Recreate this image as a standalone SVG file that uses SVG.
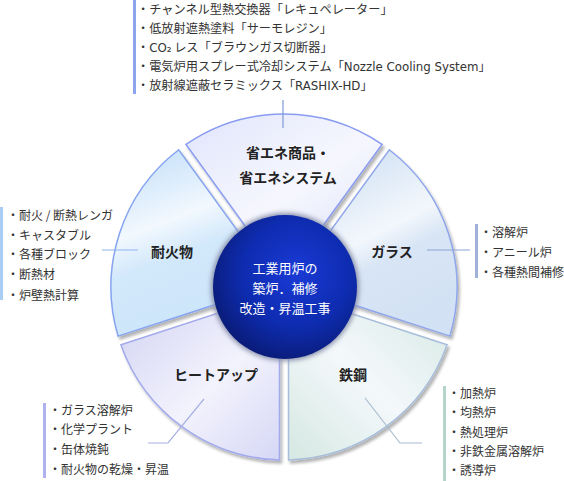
<svg xmlns="http://www.w3.org/2000/svg" width="564" height="481" viewBox="0 0 564 481">
<defs>
<style>
.lst{font-family:"Noto Sans CJK JP","Noto Sans",sans-serif;font-size:12px;fill:#333}
.top{font-size:12.2px}
.lat{font-family:"DejaVu Sans","Noto Sans CJK JP",sans-serif;font-size:11.8px}
.lbl{font-family:"Noto Sans CJK JP","Noto Sans",sans-serif;font-size:14px;font-weight:bold;fill:#222;text-anchor:middle}
.ctr{font-family:"Noto Sans CJK JP","Noto Sans",sans-serif;font-size:13px;fill:#fff;text-anchor:middle}
.seg{stroke-width:1.5;filter:url(#sh)}
.ld{fill:none;stroke-width:1.2}
</style>
<filter id="sh" x="-10%" y="-10%" width="125%" height="125%">
<feGaussianBlur in="SourceAlpha" stdDeviation="1.6"/>
<feOffset dx="2" dy="2.5" result="b"/>
<feComponentTransfer><feFuncA type="linear" slope="0.3"/></feComponentTransfer>
<feMerge><feMergeNode/><feMergeNode in="SourceGraphic"/></feMerge>
</filter>
<filter id="glow" x="-20%" y="-20%" width="140%" height="140%"><feGaussianBlur stdDeviation="2.5"/></filter>
<linearGradient id="gTop" x1="0" y1="0" x2="1" y2="1"><stop offset="0" stop-color="#e1e5fb"/><stop offset="0.55" stop-color="#f6f7fe"/><stop offset="1" stop-color="#dce1f8"/></linearGradient>
<linearGradient id="gGla" x1="0.2" y1="0" x2="0.6" y2="1"><stop offset="0" stop-color="#cddff3"/><stop offset="0.47" stop-color="#f3f7fc"/><stop offset="0.62" stop-color="#d8e5f5"/><stop offset="1" stop-color="#d2e1f4"/></linearGradient>
<linearGradient id="gSte" x1="0" y1="1" x2="1" y2="0"><stop offset="0" stop-color="#d5e8e2"/><stop offset="0.5" stop-color="#f4f8fb"/><stop offset="1" stop-color="#d6e9e4"/></linearGradient>
<linearGradient id="gHea" x1="0" y1="0" x2="1" y2="1"><stop offset="0" stop-color="#d2d3f3"/><stop offset="0.55" stop-color="#f3f3fd"/><stop offset="1" stop-color="#d6d7f5"/></linearGradient>
<linearGradient id="gRef" x1="0.35" y1="0" x2="0.65" y2="1"><stop offset="0" stop-color="#c8e2fa"/><stop offset="0.36" stop-color="#f2f8fe"/><stop offset="0.55" stop-color="#d2e8fb"/><stop offset="1" stop-color="#cce5fa"/></linearGradient>
<radialGradient id="gC" cx="0.58" cy="0.4" r="0.62"><stop offset="0" stop-color="#1a3ad6"/><stop offset="0.6" stop-color="#0e2cb0"/><stop offset="1" stop-color="#0a1c7a"/></radialGradient>
</defs>
<rect width="564" height="481" fill="#fff"/>

<g id="node-energy">
<path class="seg" d="M185.99 144.45 A173 173 0 0 1 382.01 144.45 L303.87 251.99 L264.13 251.99 Z" fill="url(#gTop)" stroke="#8a9cf2"/>
</g>
<g id="node-glass">
<path class="seg" d="M389.30 149.73 A173 173 0 0 1 449.86 336.17 L323.44 295.08 L311.16 257.28 Z" fill="url(#gGla)" stroke="#8fa6ea"/>
</g>
<g id="node-steel">
<path class="seg" d="M447.08 344.71 A173 173 0 0 1 288.50 459.93 L288.51 327.00 L320.65 303.64 Z" fill="url(#gSte)" stroke="#a7bddb"/>
</g>
<g id="node-heatup">
<path class="seg" d="M279.50 459.93 A173 173 0 0 1 120.92 344.71 L247.35 303.64 L279.49 327.00 Z" fill="url(#gHea)" stroke="#a2aaec"/>
</g>
<g id="node-refractory">
<path class="seg" d="M118.14 336.17 A173 173 0 0 1 178.70 149.73 L256.84 257.28 L244.56 295.08 Z" fill="url(#gRef)" stroke="#86a4f0"/>
</g>

<g id="node-center">
<circle cx="285" cy="287" r="74" fill="#8890aa" filter="url(#glow)"/>
<circle cx="285" cy="287" r="72" fill="url(#gC)"/>
<text class="ctr" x="285" y="273">工業用炉の</text>
<text class="ctr" x="285" y="293">築炉．補修</text>
<text class="ctr" x="285" y="313">改造・昇温工事</text>
</g>

<g id="labels">
<text class="lbl" x="288" y="158">省エネ商品・</text>
<text class="lbl" x="288" y="183">省エネシステム</text>
<text class="lbl" x="392" y="257">ガラス</text>
<text class="lbl" x="172" y="257">耐火物</text>
<text class="lbl" x="353" y="380">鉄鋼</text>
<text class="lbl" x="216" y="380">ヒートアップ</text>
</g>

<g id="connectors">
<line class="ld" x1="283" y1="100" x2="283" y2="128" stroke="#7f9ad8"/>
<line class="ld" x1="102" y1="250" x2="138" y2="250" stroke="#8db4f0"/>
<line class="ld" x1="427" y1="250" x2="470" y2="250" stroke="#8ea4d8"/>
<polyline class="ld" points="365,398 400,443 422,443" stroke="#a9bcd0"/>
<polyline class="ld" points="204,399 168,443 148,443" stroke="#a8b0e4"/>
</g>

<g id="list-energy">
<rect x="133" y="0" width="3" height="94" fill="#8ca6ee"/>
<text class="lst top" x="137" y="14">・チャンネル型熱交換器「レキュペレーター」</text>
<text class="lst top" x="137" y="33">・低放射遮熱塗料「サーモレジン」</text>
<text class="lst top" x="137" y="52">・<tspan class="lat">CO₂</tspan> レス「ブラウンガス切断器」</text>
<text class="lst top" x="137" y="71">・電気炉用スプレー式冷却システム「<tspan class="lat">Nozzle Cooling System</tspan>」</text>
<text class="lst top" x="137" y="90">・放射線遮蔽セラミックス「<tspan class="lat">RASHIX-HD</tspan>」</text>
</g>
<g id="list-refractory">
<rect x="0" y="207" width="3" height="93" fill="#a9cdf5"/>
<text class="lst" x="7" y="219.5">・耐火 / 断熱レンガ</text>
<text class="lst" x="7" y="239.5">・キャスタブル</text>
<text class="lst" x="7" y="258.5">・各種ブロック</text>
<text class="lst" x="7" y="278.5">・断熱材</text>
<text class="lst" x="7" y="299.5">・炉壁熱計算</text>
</g>
<g id="list-glass">
<rect x="475" y="224" width="3" height="54" fill="#a0b0d8"/>
<text class="lst" x="480" y="236.5">・溶解炉</text>
<text class="lst" x="480" y="256.5">・アニール炉</text>
<text class="lst" x="480" y="276.5">・各種熱間補修</text>
</g>
<g id="list-heatup">
<rect x="43" y="403" width="3" height="75" fill="#b0b2ee"/>
<text class="lst" x="49" y="414.5">・ガラス溶解炉</text>
<text class="lst" x="49" y="433.5">・化学プラント</text>
<text class="lst" x="49" y="453.5">・缶体焼鈍</text>
<text class="lst" x="49" y="473.5">・耐火物の乾燥・昇温</text>
</g>
<g id="list-steel">
<rect x="443" y="386" width="3" height="95" fill="#b5d5cc"/>
<text class="lst" x="448" y="397.5">・加熱炉</text>
<text class="lst" x="448" y="416.5">・均熱炉</text>
<text class="lst" x="448" y="436.5">・熱処理炉</text>
<text class="lst" x="448" y="455.5">・非鉄金属溶解炉</text>
<text class="lst" x="448" y="474.5">・誘導炉</text>
</g>
</svg>
